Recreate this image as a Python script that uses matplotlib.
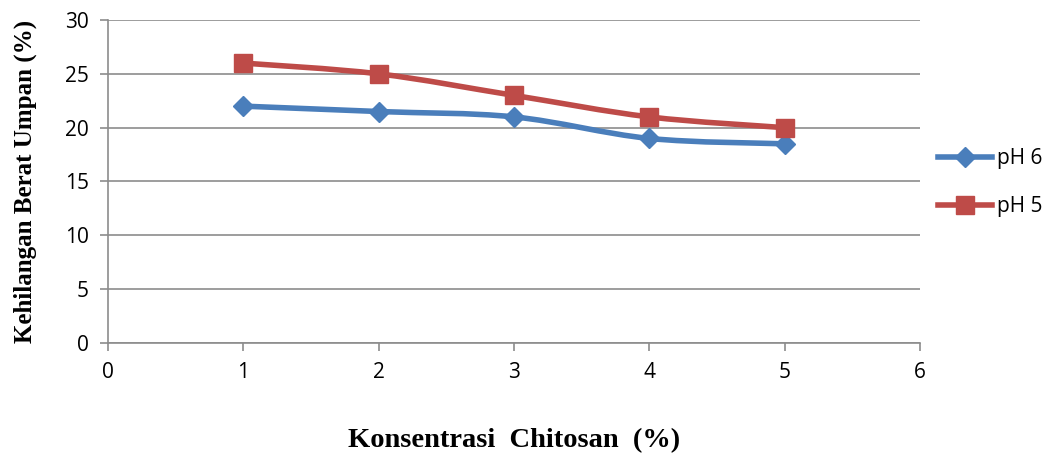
import numpy as np
import matplotlib.pyplot as plt
from matplotlib.path import Path
from matplotlib.patches import PathPatch
from matplotlib.lines import Line2D

konsentrasi = [1, 2, 3, 4, 5]
ph6 = [22, 21.5, 21, 19, 18.5]
ph5 = [26, 25, 23, 21, 20]
xticks = [0, 1, 2, 3, 4, 5, 6]
yticks = [0, 5, 10, 15, 20, 25, 30]

blue = '#4a7ebb'
red = '#be4b48'

fig = plt.figure(figsize=(10.52, 4.55), dpi=100)
ax = fig.add_axes([0.1027, 0.2462, 0.7718, 0.7098])


def smooth_path(x, y, t=1 / 6):
    # Catmull-Rom style bezier through the data points (like Excel smoothed lines)
    pts = np.column_stack([x, y]).astype(float)
    verts = [pts[0]]
    codes = [Path.MOVETO]
    n = len(pts)
    for i in range(n - 1):
        p0 = pts[i - 1] if i > 0 else pts[i]
        p1 = pts[i]
        p2 = pts[i + 1]
        p3 = pts[i + 2] if i + 2 < n else pts[i + 1]
        c1 = p1 + (p2 - p0) * t
        c2 = p2 - (p3 - p1) * t
        verts += [c1, c2, p2]
        codes += [Path.CURVE4] * 3
    return Path(verts, codes)


for ys, col, mk, ms in [(ph6, blue, 'D', 10), (ph5, red, 's', 13)]:
    ax.add_patch(PathPatch(smooth_path(konsentrasi, ys), fill=False,
                           edgecolor=col, lw=4, capstyle='round', zorder=3))
    ax.plot(konsentrasi, ys, ls='none', marker=mk, ms=ms, color=col, zorder=4)

ax.set_xlim(0, 6)
ax.set_ylim(0, 30)
ax.set_xticks(xticks)
ax.set_yticks(yticks)
ax.yaxis.grid(True, color='#8c8c8c', lw=1.2)
ax.set_axisbelow(True)
for s in ['top', 'right']:
    ax.spines[s].set_visible(False)
for s in ['left', 'bottom']:
    ax.spines[s].set_color('#8c8c8c')
    ax.spines[s].set_linewidth(1.2)
ax.tick_params(axis='both', colors='#8c8c8c', length=6, width=1.2, labelsize=16,
               labelcolor='black', pad=8)
for lab in ax.get_xticklabels() + ax.get_yticklabels():
    lab.set_family('Open Sans')
    lab.set_fontsize(15)

ax.set_xlabel('Konsentrasi  Chitosan  (%)', family='Liberation Serif',
              fontweight='bold', fontsize=20.5, labelpad=32)
ax.set_ylabel('Kehilangan Berat Umpan (%)', family='Liberation Serif',
              fontweight='bold', fontsize=18, labelpad=20)

handles = [Line2D([], [], color=blue, lw=4, marker='D', ms=10),
           Line2D([], [], color=red, lw=4, marker='s', ms=13)]
fig.legend(handles, ['pH 6', 'pH 5'], loc='center left',
           bbox_to_anchor=(0.892, 0.598), frameon=False, handlelength=2.55,
           labelspacing=1.3, handletextpad=0.25, borderpad=0, borderaxespad=0,
           prop={'family': 'Open Sans', 'size': 15})

fig.savefig('out.png', dpi=100)
